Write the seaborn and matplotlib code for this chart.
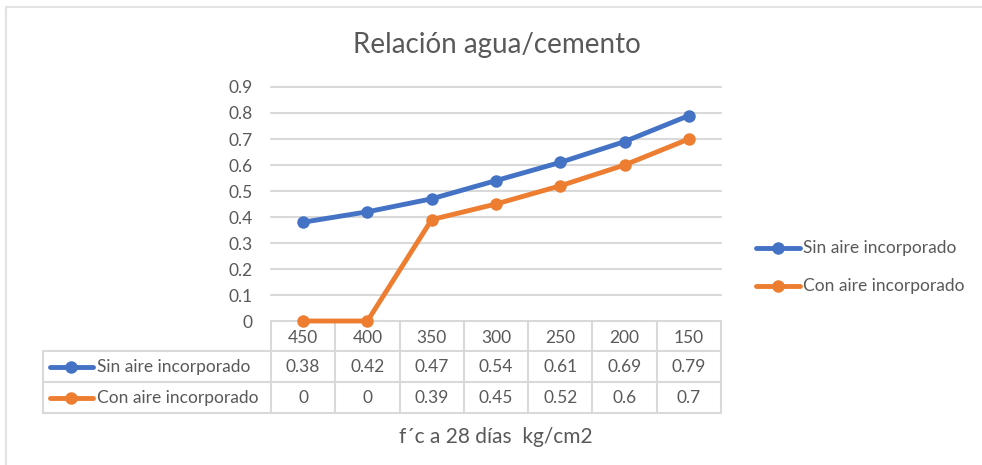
import matplotlib
matplotlib.use("Agg")
import matplotlib.pyplot as plt
import seaborn as sns
import pandas as pd
from matplotlib.lines import Line2D

# ---- data ----
categories = ["450", "400", "350", "300", "250", "200", "150"]
series_names = ["Sin aire incorporado", "Con aire incorporado"]
sin_aire = [0.38, 0.42, 0.47, 0.54, 0.61, 0.69, 0.79]
con_aire = [0, 0, 0.39, 0.45, 0.52, 0.6, 0.7]
table_sin = ["0.38", "0.42", "0.47", "0.54", "0.61", "0.69", "0.79"]
table_con = ["0", "0", "0.39", "0.45", "0.52", "0.6", "0.7"]
y_ticks = [0, 0.1, 0.2, 0.3, 0.4, 0.5, 0.6, 0.7, 0.8, 0.9]
y_tick_labels = ["0", "0.1", "0.2", "0.3", "0.4", "0.5", "0.6", "0.7", "0.8", "0.9"]
title = "Relación agua/cemento"
x_title = "f´c a 28 días  kg/cm2"

colors = ["#4472C4", "#ED7D31"]
grid_c = "#D9D9D9"
text_c = "#595959"
fs = 12.5

sns.set_theme(style="white")
plt.rcParams["font.family"] = ["Lato", "DejaVu Sans"]

W, H = 982, 465
fig = plt.figure(figsize=(W / 100, H / 100), dpi=100)

# overlay in pixel coordinates (drawn underneath the plot axes)
ov = fig.add_axes([0, 0, 1, 1])
ov.set_xlim(0, W)
ov.set_ylim(H, 0)
ov.axis("off")
ov.set_zorder(0)

# plot area in pixels
L, R, T, B = 271, 721, 87, 321
ax = fig.add_axes([L / W, (H - B) / H, (R - L) / W, (B - T) / H])
ax.set_zorder(1)
ax.patch.set_alpha(0)

df = pd.DataFrame({
    "pos": list(range(len(categories))) * 2,
    "valor": sin_aire + con_aire,
    "serie": [series_names[0]] * len(categories) + [series_names[1]] * len(categories),
})
sns.lineplot(data=df, x="pos", y="valor", hue="serie", palette=colors,
             marker="o", markersize=9, markeredgewidth=0, linewidth=3.5,
             legend=False, sort=False, ax=ax, clip_on=False, zorder=3)

ax.set_xlim(-0.5, len(categories) - 0.5)
ax.set_ylim(0, 0.9)
ax.set_yticks(y_ticks)
ax.set_yticklabels(y_tick_labels, color=text_c, fontsize=fs)
ax.tick_params(axis="y", length=0, pad=13)
ax.set_xticks([])
ax.set_xlabel("")
ax.set_ylabel("")
for s in ax.spines.values():
    s.set_visible(False)
for yv in y_ticks:
    ax.axhline(yv, color=grid_c, lw=1.5, zorder=1, clip_on=False)

# chart frame (left and top)
ov.plot([6, 6], [7, H], color="#E3E3E3", lw=1.5)
ov.plot([6, W], [7, 7], color="#E3E3E3", lw=1.5)

# title
ov.text(497, 45, title, ha="center", va="center", fontsize=20, color=text_c)

# data table
n = len(categories)
colw = (R - L) / n
r0, r1, r2, r3 = B, 351, 382, 413
tl = 43
tc = grid_c
for yy in (r1, r2, r3):
    ov.plot([tl, R], [yy, yy], color=tc, lw=1.5)
for i in range(n + 1):
    xx = L + i * colw
    ov.plot([xx, xx], [r0, r3], color=tc, lw=1.5)
ov.plot([tl, tl], [r1, r3], color=tc, lw=1.5)

for i in range(n):
    cx = L + (i + 0.5) * colw
    ov.text(cx, (r0 + r1) / 2 + 2, categories[i], ha="center", va="center", fontsize=fs, color=text_c)
    ov.text(cx, (r1 + r2) / 2, table_sin[i], ha="center", va="center", fontsize=fs, color=text_c)
    ov.text(cx, (r2 + r3) / 2, table_con[i], ha="center", va="center", fontsize=fs, color=text_c)

for k, (yy, name) in enumerate(zip([(r1 + r2) / 2, (r2 + r3) / 2], series_names)):
    ov.add_line(Line2D([50, 93], [yy, yy], color=colors[k], lw=3.5, solid_capstyle="round"))
    ov.plot([71], [yy], "o", color=colors[k], markersize=9, markeredgewidth=0)
    ov.text(97, yy, name, ha="left", va="center", fontsize=fs, color=text_c)

ov.text(496, 437, x_title, ha="center", va="center", fontsize=15, color=text_c)

# right legend
for k, (yy, name) in enumerate(zip([248, 286], series_names)):
    ov.add_line(Line2D([756, 800], [yy, yy], color=colors[k], lw=3.5, solid_capstyle="round"))
    ov.plot([778], [yy], "o", color=colors[k], markersize=9, markeredgewidth=0)
    ov.text(803, yy, name, ha="left", va="center", fontsize=fs, color=text_c)

fig.savefig("out.png", dpi=100, facecolor="white")
